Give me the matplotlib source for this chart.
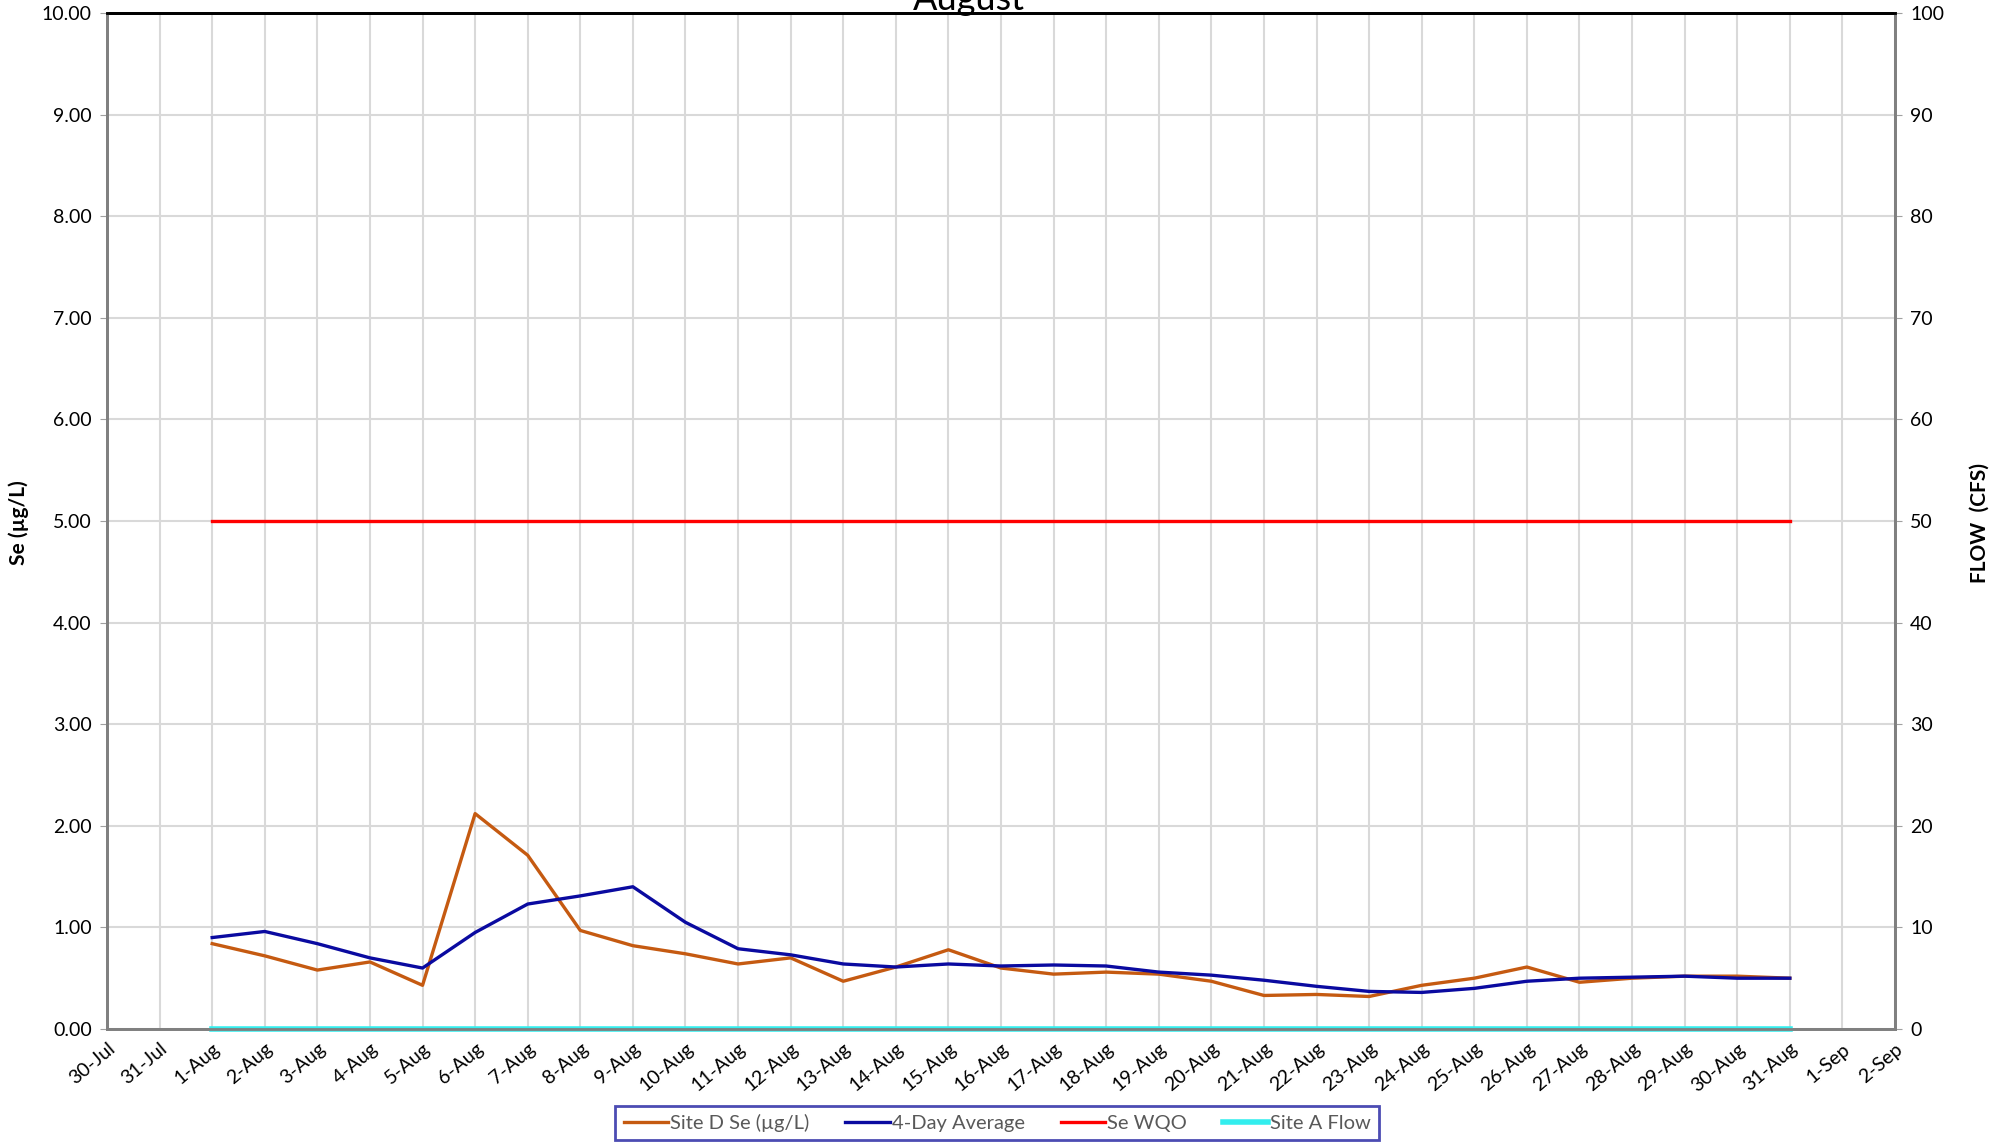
import matplotlib
matplotlib.use("Agg")
import matplotlib.pyplot as plt

plt.rcParams['font.family'] = ['Lato', 'DejaVu Sans']

# categories on the x axis (30-Jul .. 2-Sep)
dates = ["30-Jul", "31-Jul"] + [f"{d}-Aug" for d in range(1, 32)] + ["1-Sep", "2-Sep"]
aug_days = [f"{d}-Aug" for d in range(1, 32)]

site_d_se = [0.84, 0.72, 0.58, 0.66, 0.43, 2.12, 1.71, 0.97, 0.82, 0.74,
             0.64, 0.70, 0.47, 0.61, 0.78, 0.60, 0.54, 0.56, 0.54, 0.47,
             0.33, 0.34, 0.32, 0.43, 0.50, 0.61, 0.46, 0.50, 0.52, 0.52, 0.50]
four_day_avg = [0.90, 0.96, 0.84, 0.70, 0.60, 0.95, 1.23, 1.31, 1.40, 1.05,
                0.79, 0.73, 0.64, 0.61, 0.64, 0.62, 0.63, 0.62, 0.56, 0.53,
                0.48, 0.42, 0.37, 0.36, 0.40, 0.47, 0.50, 0.51, 0.52, 0.50, 0.50]
se_wqo = [5.0] * 31
site_a_flow = [0.0] * 31

fig = plt.figure(figsize=(20.02, 11.44), dpi=100)
ax = fig.add_axes([107 / 2002, 1 - 1029 / 1144, (1895 - 107) / 2002, (1029 - 13) / 1144])
ax2 = ax.twinx()

x_aug = [dates.index(d) for d in aug_days]

l1, = ax.plot(x_aug, site_d_se, color="#C55A11", lw=2.4, label="Site D Se (µg/L)", zorder=4)
l2, = ax.plot(x_aug, four_day_avg, color="#0A0AA0", lw=2.4, label="4-Day Average", zorder=5)
l3, = ax.plot(x_aug, se_wqo, color="#FF0000", lw=2.4, label="Se WQO", zorder=3)
l4, = ax2.plot(x_aug, site_a_flow, color="#33EEEE", lw=4, label="Site A Flow", clip_on=False)

ax.set_xlim(0, len(dates) - 1)
ax.set_ylim(0, 10)
ax2.set_ylim(0, 100)
ax.set_yticks(range(0, 11))
ax.set_yticklabels([f"{v:.2f}" for v in range(0, 11)])
ax2.set_yticks(range(0, 101, 10))
ax.set_xticks(range(len(dates)))
ax.set_xticklabels(dates, rotation=40, ha="right", rotation_mode="anchor")

ax.grid(True, color="#D9D9D9", lw=1.5)
ax.set_axisbelow(True)
ax.tick_params(axis="x", length=0, labelsize=14, pad=8)
ax.tick_params(axis="y", length=5, color="#A0A0A0", labelsize=14, pad=6)
ax2.tick_params(axis="y", length=5, color="#A0A0A0", labelsize=14, pad=6)

for a in (ax, ax2):
    for s in ("left", "right", "bottom"):
        a.spines[s].set_color("#808080")
        a.spines[s].set_linewidth(2)
    a.spines["top"].set_color("black")
    a.spines["top"].set_linewidth(2)

fig.text(19 / 2002, 1 - 523 / 1144, "Se (µg/L)", rotation=90, fontsize=15,
         fontweight="bold", ha="center", va="center")
fig.text(1980 / 2002, 1 - 523 / 1144, "FLOW  (CFS)", rotation=90, fontsize=15,
         fontweight="bold", ha="center", va="center")
fig.text(969 / 2002, 1 - 10 / 1144, "August", fontsize=26, ha="center", va="baseline")

leg = fig.legend(handles=[l1, l2, l3, l4], loc="center", ncol=4,
                 bbox_to_anchor=(997 / 2002, 1 - 1123 / 1144), fontsize=14.5,
                 frameon=True, fancybox=False, handlelength=2.2, handletextpad=0.1,
                 columnspacing=1.8, borderpad=0.4)
leg.get_frame().set_edgecolor("#1F1FA0")
leg.get_frame().set_linewidth(2)
for t in leg.get_texts():
    t.set_color("#595959")

fig.savefig("out.png", dpi=100)
